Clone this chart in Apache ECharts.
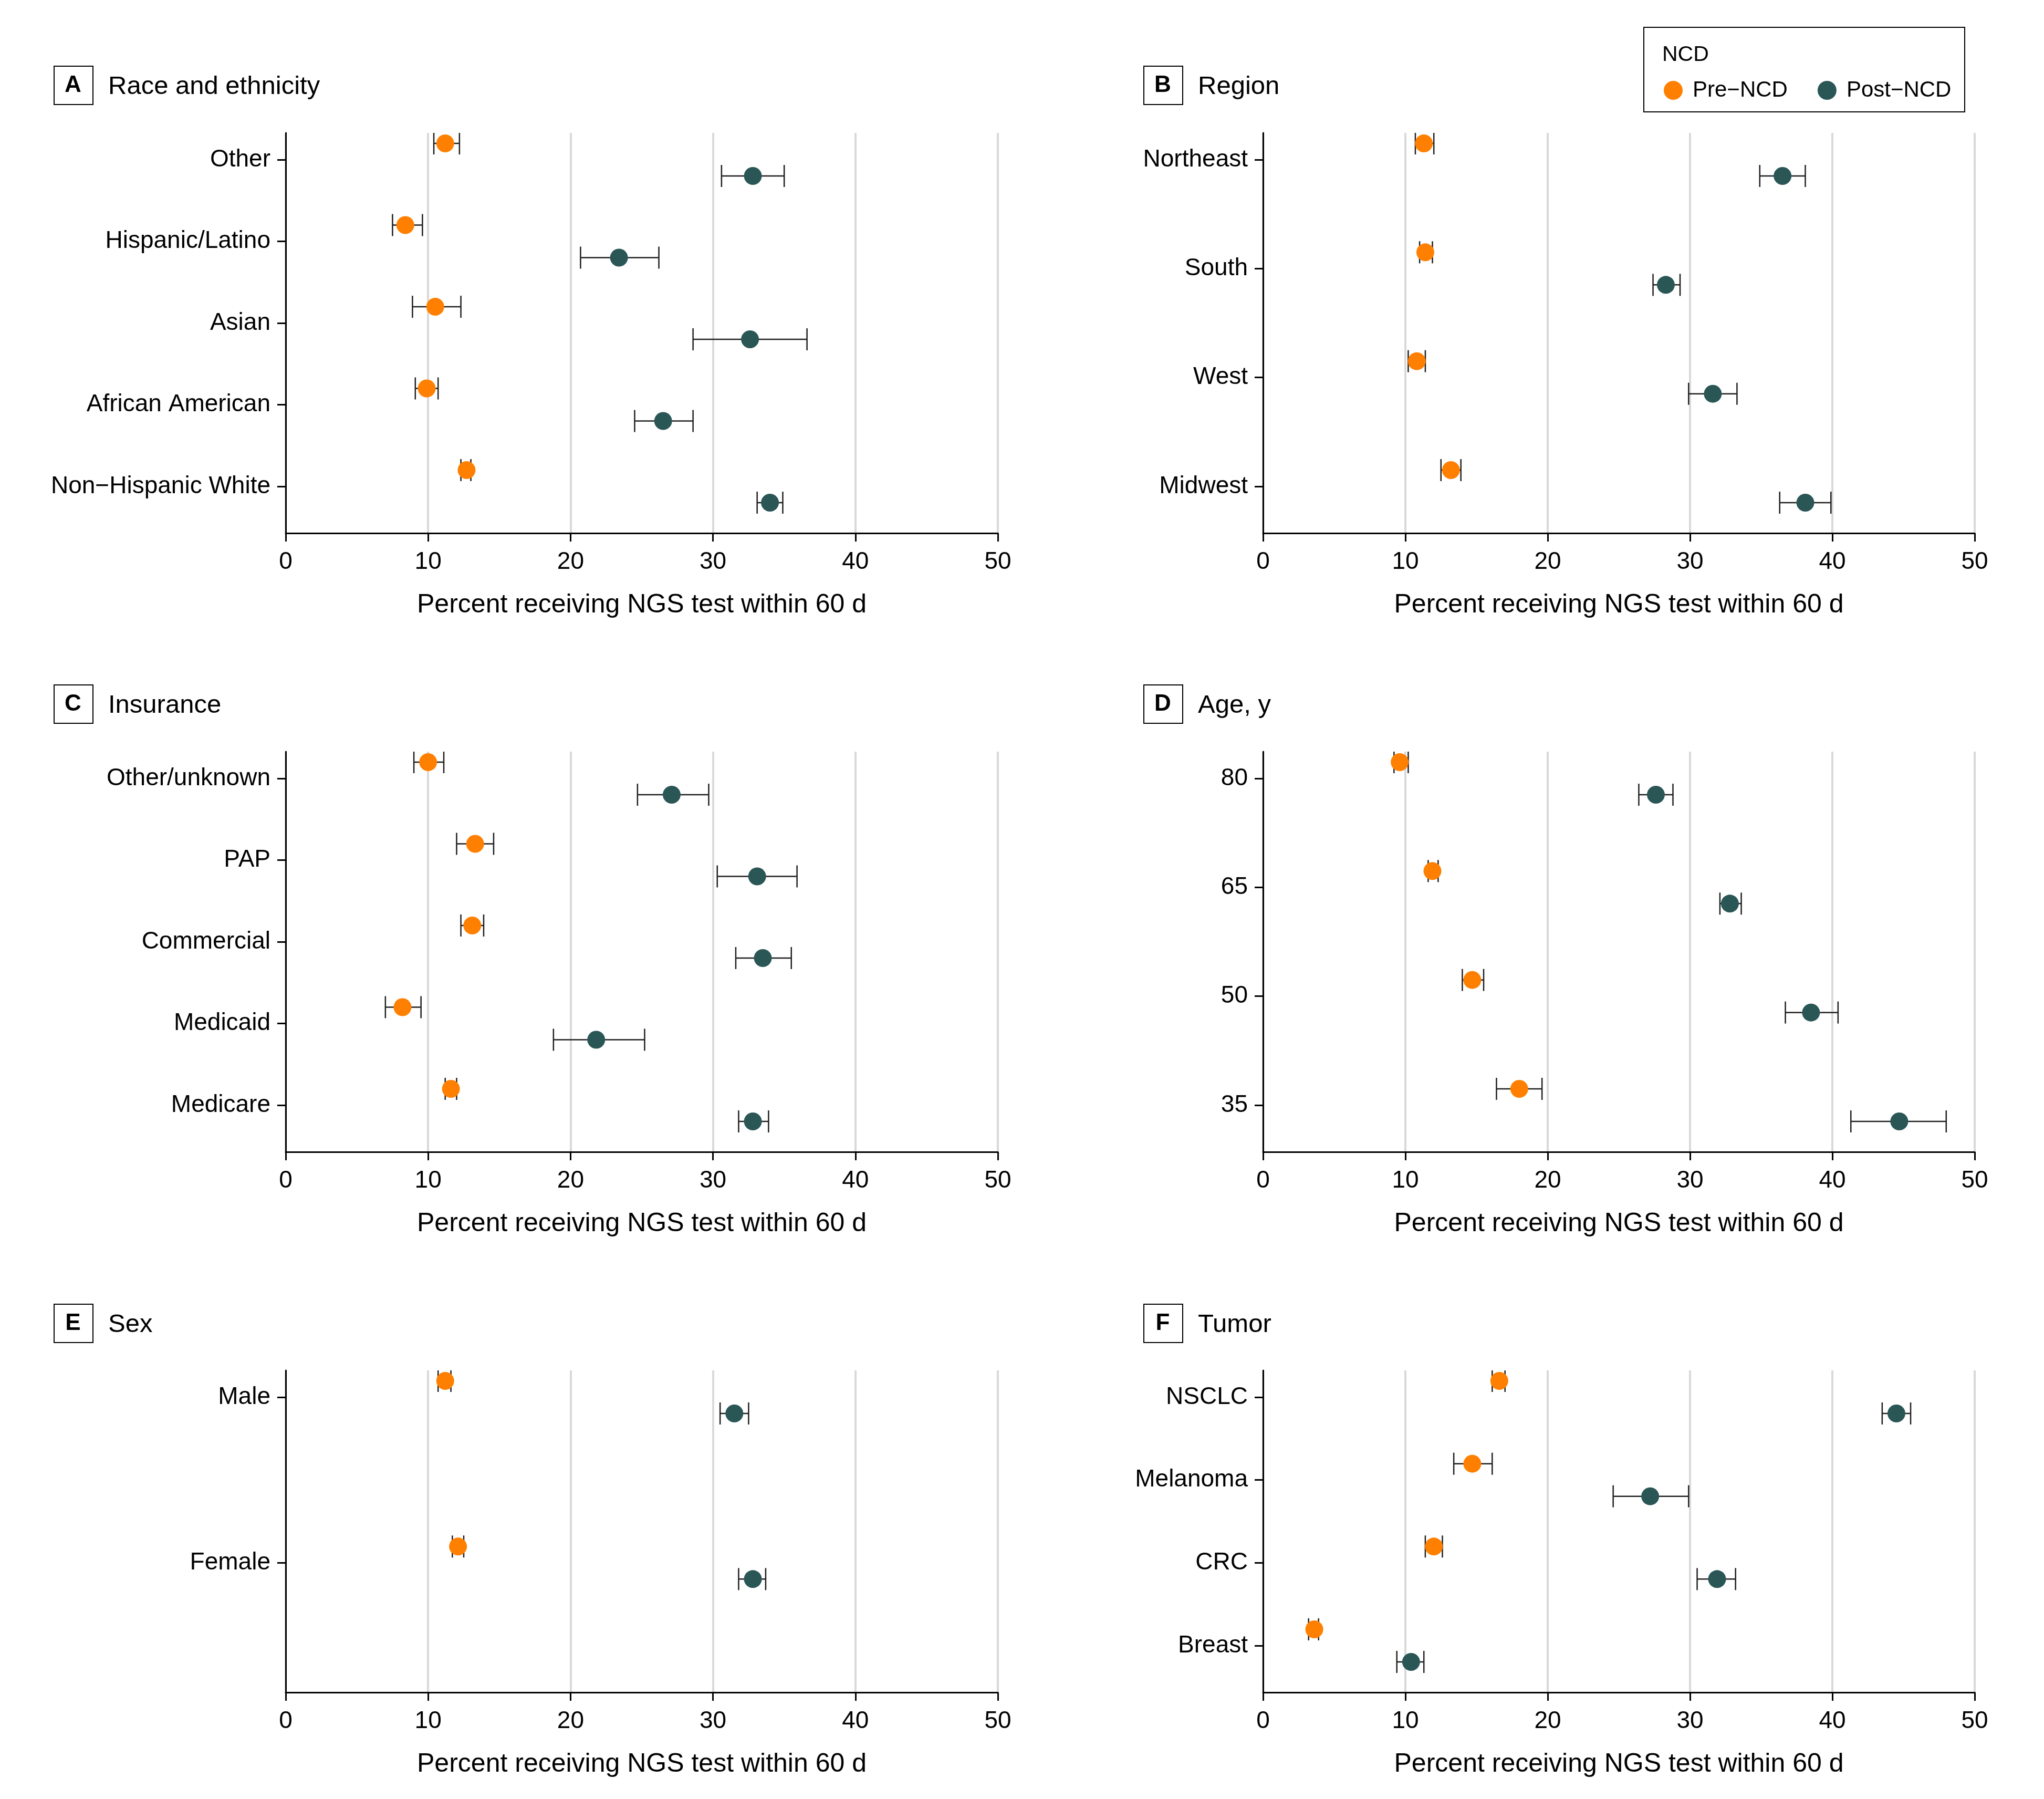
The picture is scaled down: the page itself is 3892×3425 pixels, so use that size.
<!DOCTYPE html>
<html>
<head>
<meta charset="utf-8">
<script src="https://cdn.jsdelivr.net/npm/echarts@6/dist/echarts.min.js"></script>
<style>
html,body{margin:0;padding:0;background:#fff;}
#chart{width:3892px;height:3425px;}
</style>
</head>
<body>
<div id="chart"></div>
<script>
// ---------------- DATA ----------------
const xTicks = [0, 10, 20, 30, 40, 50];
const xTitle = 'Percent receiving NGS test within 60 d';
const seriesNames = ['Pre\u2212NCD', 'Post\u2212NCD'];

// A Race and ethnicity
const raceCats = ['Other', 'Hispanic/Latino', 'Asian', 'African American', 'Non\u2212Hispanic White'];
const racePre = [11.2, 8.4, 10.5, 9.9, 12.7];
const racePreLo = [10.4, 7.5, 8.9, 9.1, 12.3];
const racePreHi = [12.2, 9.6, 12.3, 10.7, 13.0];
const racePost = [32.8, 23.4, 32.6, 26.5, 34.0];
const racePostLo = [30.6, 20.7, 28.6, 24.5, 33.1];
const racePostHi = [35.0, 26.2, 36.6, 28.6, 34.9];

// B Region
const regionCats = ['Northeast', 'South', 'West', 'Midwest'];
const regionPre = [11.3, 11.4, 10.8, 13.2];
const regionPreLo = [10.7, 11.0, 10.2, 12.5];
const regionPreHi = [12.0, 11.9, 11.4, 13.9];
const regionPost = [36.5, 28.3, 31.6, 38.1];
const regionPostLo = [34.9, 27.4, 29.9, 36.3];
const regionPostHi = [38.1, 29.3, 33.3, 39.9];

// C Insurance
const insCats = ['Other/unknown', 'PAP', 'Commercial', 'Medicaid', 'Medicare'];
const insPre = [10.0, 13.3, 13.1, 8.2, 11.6];
const insPreLo = [9.0, 12.0, 12.3, 7.0, 11.2];
const insPreHi = [11.1, 14.6, 13.9, 9.5, 12.0];
const insPost = [27.1, 33.1, 33.5, 21.8, 32.8];
const insPostLo = [24.7, 30.3, 31.6, 18.8, 31.8];
const insPostHi = [29.7, 35.9, 35.5, 25.2, 33.9];

// D Age, y
const ageCats = ['80', '65', '50', '35'];
const agePre = [9.6, 11.9, 14.7, 18.0];
const agePreLo = [9.2, 11.6, 14.0, 16.4];
const agePreHi = [10.2, 12.3, 15.5, 19.6];
const agePost = [27.6, 32.8, 38.5, 44.7];
const agePostLo = [26.4, 32.1, 36.7, 41.3];
const agePostHi = [28.8, 33.6, 40.4, 48.0];

// E Sex
const sexCats = ['Male', 'Female'];
const sexPre = [11.2, 12.1];
const sexPreLo = [10.7, 11.7];
const sexPreHi = [11.6, 12.5];
const sexPost = [31.5, 32.8];
const sexPostLo = [30.5, 31.8];
const sexPostHi = [32.5, 33.7];

// F Tumor
const tumorCats = ['NSCLC', 'Melanoma', 'CRC', 'Breast'];
const tumorPre = [16.6, 14.7, 12.0, 3.6];
const tumorPreLo = [16.1, 13.4, 11.4, 3.2];
const tumorPreHi = [17.0, 16.1, 12.6, 3.9];
const tumorPost = [44.5, 27.2, 31.9, 10.4];
const tumorPostLo = [43.5, 24.6, 30.5, 9.4];
const tumorPostHi = [45.5, 29.9, 33.2, 11.3];

// ---------------- STYLE / LAYOUT ----------------
const FONT = "'Liberation Sans', Arial, sans-serif";
const ORANGE = '#FF8000';
const TEAL = '#2B5656';
const BAR = '#1e1e1e';
const CAP = 21, MR = 17, DY = 31;
const TOPGAP = 51, BOTGAP = 89;
const colLeft = [544, 2405];
const plotW = [1356, 1355];
const rowTop = [253, 1431, 2609];
const rowH = [762, 762, 613];
const headLeft = [102, 2177];
const headTop = [125, 1303, 2482];

const panels = [
  {letter: 'A', title: 'Race and ethnicity', cats: raceCats, pre: [racePre, racePreLo, racePreHi], post: [racePost, racePostLo, racePostHi], col: 0, row: 0},
  {letter: 'B', title: 'Region', cats: regionCats, pre: [regionPre, regionPreLo, regionPreHi], post: [regionPost, regionPostLo, regionPostHi], col: 1, row: 0},
  {letter: 'C', title: 'Insurance', cats: insCats, pre: [insPre, insPreLo, insPreHi], post: [insPost, insPostLo, insPostHi], col: 0, row: 1},
  {letter: 'D', title: 'Age, y', cats: ageCats, pre: [agePre, agePreLo, agePreHi], post: [agePost, agePostLo, agePostHi], col: 1, row: 1},
  {letter: 'E', title: 'Sex', cats: sexCats, pre: [sexPre, sexPreLo, sexPreHi], post: [sexPost, sexPostLo, sexPostHi], col: 0, row: 2, spacingSlots: 2, slots: 4},
  {letter: 'F', title: 'Tumor', cats: tumorCats, pre: [tumorPre, tumorPreLo, tumorPreHi], post: [tumorPost, tumorPostLo, tumorPostHi], col: 1, row: 2}
];

function makeRender(dy, color) {
  return function (params, api) {
    const y = api.value(3);
    const c = api.coord([api.value(0), y]);
    const l = api.coord([api.value(1), y]);
    const h = api.coord([api.value(2), y]);
    const cy = c[1] + dy;
    const ls = {stroke: BAR, lineWidth: 2.5};
    return {
      type: 'group',
      children: [
        {type: 'line', shape: {x1: l[0], y1: cy, x2: h[0], y2: cy}, style: ls},
        {type: 'line', shape: {x1: l[0], y1: cy - CAP, x2: l[0], y2: cy + CAP}, style: ls},
        {type: 'line', shape: {x1: h[0], y1: cy - CAP, x2: h[0], y2: cy + CAP}, style: ls},
        {type: 'circle', shape: {cx: c[0], cy: cy, r: MR}, style: {fill: color}, z2: 10}
      ]
    };
  };
}

const grids = [], xAxes = [], yAxes = [], series = [], graphics = [];

panels.forEach(function (p, k) {
  const n = p.cats.length;
  const H = rowH[p.row];
  let s;
  if (p.slots) {
    const unit = (H - TOPGAP - BOTGAP) / (p.slots - 1);
    s = unit * p.spacingSlots;
  } else {
    s = (H - TOPGAP - BOTGAP) / (n - 1);
  }
  const bottomGap = H - TOPGAP - s * (n - 1);
  const yMax = n + TOPGAP / s;
  const yMin = 1 - bottomGap / s;
  const yVals = p.cats.map(function (c, i) { return n - i; });

  grids.push({left: colLeft[p.col], top: rowTop[p.row], width: plotW[p.col], height: H, containLabel: false});

  xAxes.push({
    type: 'value', gridIndex: k, min: xTicks[0], max: xTicks[xTicks.length - 1], interval: 10,
    axisLine: {show: true, onZero: false, lineStyle: {color: '#000', width: 3}},
    axisTick: {show: true, length: 16, lineStyle: {color: '#000', width: 3}},
    axisLabel: {fontSize: 46, color: '#000', fontFamily: FONT, margin: 32},
    splitLine: {show: true, lineStyle: {color: '#d9d9d9', width: 4}},
    name: xTitle, nameLocation: 'middle', nameGap: 112,
    nameTextStyle: {fontSize: 50, color: '#000', fontFamily: FONT}
  });

  yAxes.push({
    type: 'value', gridIndex: k, min: yMin, max: yMax, z: 3,
    axisLine: {show: true, onZero: false, lineStyle: {color: '#000', width: 3}},
    axisTick: {show: true, length: 16, lineStyle: {color: '#000', width: 3}, customValues: yVals},
    axisLabel: {
      fontSize: 46, color: '#000', fontFamily: FONT, margin: 29, customValues: yVals,
      formatter: function (v) { return p.cats[n - Math.round(v)]; }
    },
    splitLine: {show: false}
  });

  [[p.pre, -DY, ORANGE, seriesNames[0]], [p.post, DY, TEAL, seriesNames[1]]].forEach(function (d) {
    const arr = d[0];
    series.push({
      type: 'custom', name: d[3], xAxisIndex: k, yAxisIndex: k, clip: true, silent: true,
      itemStyle: {color: d[2]},
      encode: {x: [0, 1, 2], y: 3},
      renderItem: makeRender(d[1], d[2]),
      data: arr[0].map(function (v, i) { return [v, arr[1][i], arr[2][i], yVals[i]]; }),
      z: 5
    });
  });

  const hx = headLeft[p.col], hy = headTop[p.row];
  graphics.push({type: 'rect', left: hx, top: hy, shape: {width: 74, height: 73}, style: {fill: '#fff', stroke: '#000', lineWidth: 2}});
  graphics.push({type: 'text', x: hx + 37, y: hy + 38, style: {text: p.letter, fontSize: 44, fontWeight: 'bold', fontFamily: FONT, fill: '#000', textAlign: 'center', textVerticalAlign: 'middle'}});
  graphics.push({type: 'text', x: hx + 104, y: hy + 40, style: {text: p.title, fontSize: 49, fontFamily: FONT, fill: '#000', textAlign: 'left', textVerticalAlign: 'middle'}});
});

// legend box
graphics.push({type: 'rect', left: 3129, top: 51, shape: {width: 611, height: 161}, style: {fill: '#fff', stroke: '#000', lineWidth: 2}, z: -1});
graphics.push({type: 'text', x: 3165, y: 105, style: {text: 'NCD', fontSize: 41, fontFamily: FONT, fill: '#000', textAlign: 'left', textVerticalAlign: 'middle'}});

const option = {
  backgroundColor: '#fff',
  animation: false,
  textStyle: {fontFamily: FONT},
  grid: grids,
  xAxis: xAxes,
  yAxis: yAxes,
  legend: {
    data: seriesNames, left: 3163, top: 146, orient: 'horizontal',
    icon: 'circle', itemWidth: 36, itemHeight: 36, itemGap: 57,
    textStyle: {fontSize: 42, color: '#000', fontFamily: FONT, padding: [0, 0, 0, 14]},
    selectedMode: false, z: 10
  },
  graphic: graphics,
  series: series
};

const chart = echarts.init(document.getElementById('chart'), null, {renderer: 'canvas', width: 3892, height: 3425});
chart.setOption(option);
</script>
</body>
</html>
